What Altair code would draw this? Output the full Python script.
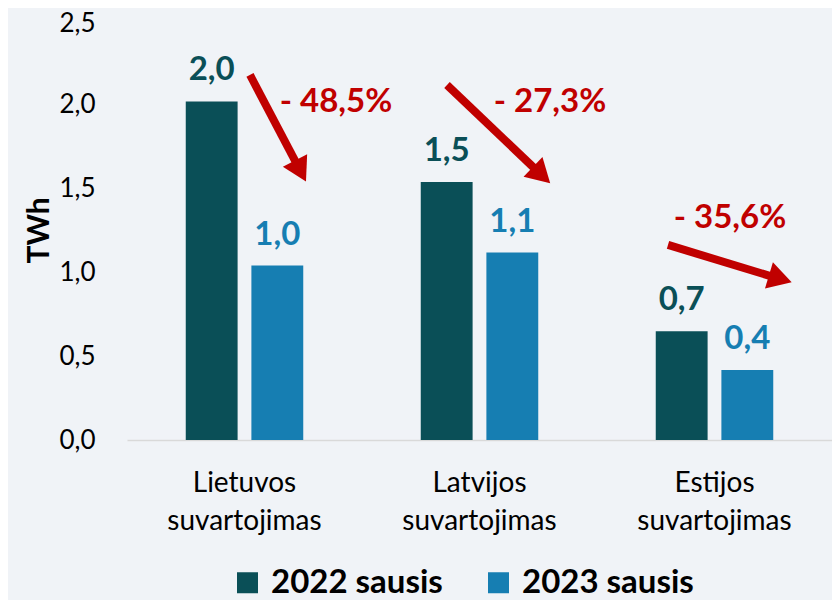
import altair as alt
import pandas as pd

# ---- data ----
categories = ["Lietuvos suvartojimas", "Latvijos suvartojimas", "Estijos suvartojimas"]
series = ["2022 sausis", "2023 sausis"]
values_2022 = [2.015, 1.535, 0.648]
values_2023 = [1.038, 1.116, 0.417]
labels_2022 = ["2,0", "1,5", "0,7"]
labels_2023 = ["1,0", "1,1", "0,4"]
changes = ["- 48,5%", "- 27,3%", "- 35,6%"]

# annotation geometry (x in plot pixels, y in TWh)
arrow_x0 = [123, 320, 541]
arrow_y0 = [2.173, 2.113, 1.161]
arrow_x1 = [168.4, 406.6, 642.7]
arrow_y1 = [1.659, 1.622, 0.977]
head_x = [173.5, 414.6, 653.3]
head_y = [1.601, 1.577, 0.959]
head_angle = [62.4, 43.6, 16.8]
change_x = [209, 423, 603]
change_y = [2.012, 2.012, 1.321]

DARK = "#0A4F57"
BLUE = "#167EB2"
RED = "#C00000"
PLOT_W = 705
PLOT_H = 420

rows = []
for i, c in enumerate(categories):
    rows.append({"cat": c, "series": series[0], "v": values_2022[i], "lab": labels_2022[i]})
    rows.append({"cat": c, "series": series[1], "v": values_2023[i], "lab": labels_2023[i]})
df = pd.DataFrame(rows)

ann = pd.DataFrame({
    "x0": arrow_x0, "y0": arrow_y0, "x1": arrow_x1, "y1": arrow_y1,
    "hx": head_x, "hy": head_y, "ang": head_angle,
    "cx": change_x, "cy": change_y, "txt": changes,
})

yscale = alt.Scale(domain=[0, 2.5], nice=False, zero=True)
xscale = alt.Scale(domain=categories, paddingInner=0.5, paddingOuter=0.25)
offscale = alt.Scale(domain=series, paddingInner=0.21, paddingOuter=0)
cscale = alt.Scale(domain=series, range=[DARK, BLUE])

x_enc = alt.X("cat:N", scale=xscale, sort=categories, title=None,
              axis=alt.Axis(labelExpr="split(datum.label, ' ')", labelAngle=0,
                            labelFontSize=28, labelColor="#000000", labelLineHeight=38,
                            labelPadding=29, ticks=False, domainColor="#D9D9D9",
                            domainWidth=1.5, labelFont="Lato", labelLimit=400))
off_enc = alt.XOffset("series:N", scale=offscale, sort=series)

bars = alt.Chart(df).mark_bar().encode(
    x=x_enc,
    xOffset=off_enc,
    y=alt.Y("v:Q", scale=yscale, title="TWh",
            axis=alt.Axis(values=[0, 0.5, 1, 1.5, 2, 2.5],
                          labelExpr="replace(format(datum.value, '.1f'), '.', ',')",
                          labelFontSize=26, labelColor="#000000", labelPadding=32,
                          labelOffset={"condition": {"test": "datum.value >= 2.5", "value": 3}, "value": 0},
                          ticks=False, domain=False, grid=False,
                          titleFontSize=30, titleFontWeight="bold", titleColor="#000000",
                          titlePadding=4)),
    color=alt.Color("series:N", scale=cscale, sort=series,
                    legend=alt.Legend(title=None, orient="none", legendX=104, legendY=546,
                                      direction="horizontal", symbolType="square",
                                      symbolSize=441, symbolStrokeWidth=0,
                                      labelFontSize=33, labelFontWeight="bold",
                                      labelColor="#000000", columnPadding=39,
                                      labelOffset=7, labelFont="Lato", labelLimit=400)),
)

bar_labels = alt.Chart(df).mark_text(
    baseline="alphabetic", dy=-21, fontSize=33, fontWeight="bold", font="Lato"
).encode(
    x=alt.X("cat:N", scale=xscale, sort=categories),
    xOffset=off_enc,
    y=alt.Y("v:Q", scale=yscale),
    text="lab:N",
    color=alt.Color("series:N", scale=cscale, sort=series),
)

ann_x = alt.Scale(domain=[0, PLOT_W], range=[0, PLOT_W], nice=False, zero=False)

arrows = alt.Chart(ann).mark_rule(color=RED, strokeWidth=8).encode(
    x=alt.X("x0:Q", scale=ann_x, axis=None),
    x2="x1:Q",
    y=alt.Y("y0:Q", scale=yscale),
    y2="y1:Q",
)

heads = alt.Chart(ann).mark_point(
    shape="triangle-right", filled=True, color=RED, size=750, opacity=1, strokeWidth=0
).encode(
    x=alt.X("hx:Q", scale=ann_x, axis=None),
    y=alt.Y("hy:Q", scale=yscale),
    angle=alt.Angle("ang:Q", scale=None),
)

change_text = alt.Chart(ann).mark_text(
    color=RED, fontSize=33, fontWeight="bold", baseline="middle", font="Lato"
).encode(
    x=alt.X("cx:Q", scale=ann_x, axis=None),
    y=alt.Y("cy:Q", scale=yscale),
    text="txt:N",
)

base = alt.layer(bars, bar_labels)
overlay = alt.layer(arrows, heads, change_text)

chart = alt.layer(base, overlay).resolve_scale(x="independent").properties(
    width=PLOT_W, height=PLOT_H,
    autosize=alt.AutoSizeParams(type="none"),
    padding={"left": 119, "top": 12, "right": 0, "bottom": 160},
).configure(
    background="#F0F3F7", font="Lato"
).configure_view(stroke=None)

chart.save("out.html", embed_options={"renderer": "svg", "actions": False})
